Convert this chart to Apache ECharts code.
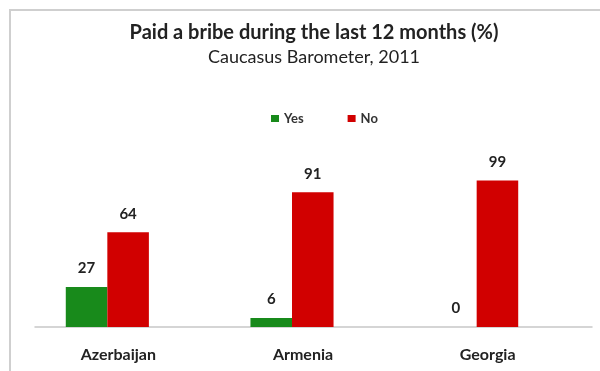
<!DOCTYPE html>
<html>
<head>
<meta charset="utf-8">
<script src="https://cdn.jsdelivr.net/npm/echarts@6/dist/echarts.min.js"></script>
<style>
  html, body { margin: 0; padding: 0; background: #fff; }
  #chart { width: 600px; height: 371px; }
</style>
</head>
<body>
<div id="chart"></div>
<script>
// data
const countries = ['Azerbaijan', 'Armenia', 'Georgia']
const yesValues = [27, 6, 0]
const noValues = [64, 91, 99]

const font = 'Lato, "Open Sans", sans-serif'

let chart = echarts.init(document.getElementById('chart'))

let options = {
    animation: false,
    backgroundColor: '#fff',
    textStyle: { fontFamily: font },
    title: {
        text: 'Paid a bribe during the last 12 months (%)',
        subtext: 'Caucasus Barometer, 2011',
        left: 309,
        textAlign: 'center',
        top: 18,
        itemGap: 5,
        textStyle: { fontFamily: font, fontSize: 20, fontWeight: 'bold', color: '#222' },
        subtextStyle: { fontFamily: font, fontSize: 18, color: '#222' }
    },
    legend: {
        top: 107,
        left: 266,
        itemWidth: 8,
        itemHeight: 7,
        itemGap: 44,
        icon: 'rect',
        textStyle: { fontFamily: font, fontSize: 13, fontWeight: 'bold', color: '#333', padding: [0, 0, 0, 0] },
        data: ['Yes', 'No']
    },
    graphic: [
        {
            // outer frame
            type: 'rect',
            shape: { x: 10, y: 10, width: 620, height: 400 },
            style: { fill: 'none', stroke: '#cfcfcf', lineWidth: 2 }
        }
    ],
    grid: [
        { left: 15, width: 554, top: 179, bottom: 44 },
        { left: 35, right: 8, top: 179, bottom: 44 }
    ],
    xAxis: [
        {
            type: 'category',
            gridIndex: 0,
            data: countries,
            axisLine: { show: false },
            axisTick: { show: false },
            axisLabel: {
                margin: 20,
                padding: [0, 0, 0, 22],
                fontFamily: font,
                fontSize: 16,
                fontWeight: 'bold',
                color: '#222'
            }
        },
        {
            // baseline only
            type: 'category',
            gridIndex: 1,
            data: countries,
            axisLine: { show: true, lineStyle: { color: '#c8c8c8', width: 1.5 } },
            axisTick: { show: false },
            axisLabel: { show: false }
        }
    ],
    yAxis: [
        { type: 'value', gridIndex: 0, min: 0, max: 100, show: false },
        { type: 'value', gridIndex: 1, min: 0, max: 100, show: false }
    ],
    series: [
        {
            name: 'Yes',
            type: 'bar',
            barGap: '0%',
            barCategoryGap: '55%',
            itemStyle: { color: '#188a1b' },
            label: {
                show: true,
                position: 'top',
                distance: 11,
                fontFamily: font,
                fontSize: 15,
                fontWeight: 'bold',
                color: '#222'
            },
            data: yesValues
        },
        {
            name: 'No',
            type: 'bar',
            barGap: '0%',
            barCategoryGap: '55%',
            itemStyle: { color: '#d10000' },
            label: {
                show: true,
                position: 'top',
                distance: 11,
                fontFamily: font,
                fontSize: 15,
                fontWeight: 'bold',
                color: '#222'
            },
            data: noValues
        }
    ]
}

chart.setOption(options)
</script>
</body>
</html>
